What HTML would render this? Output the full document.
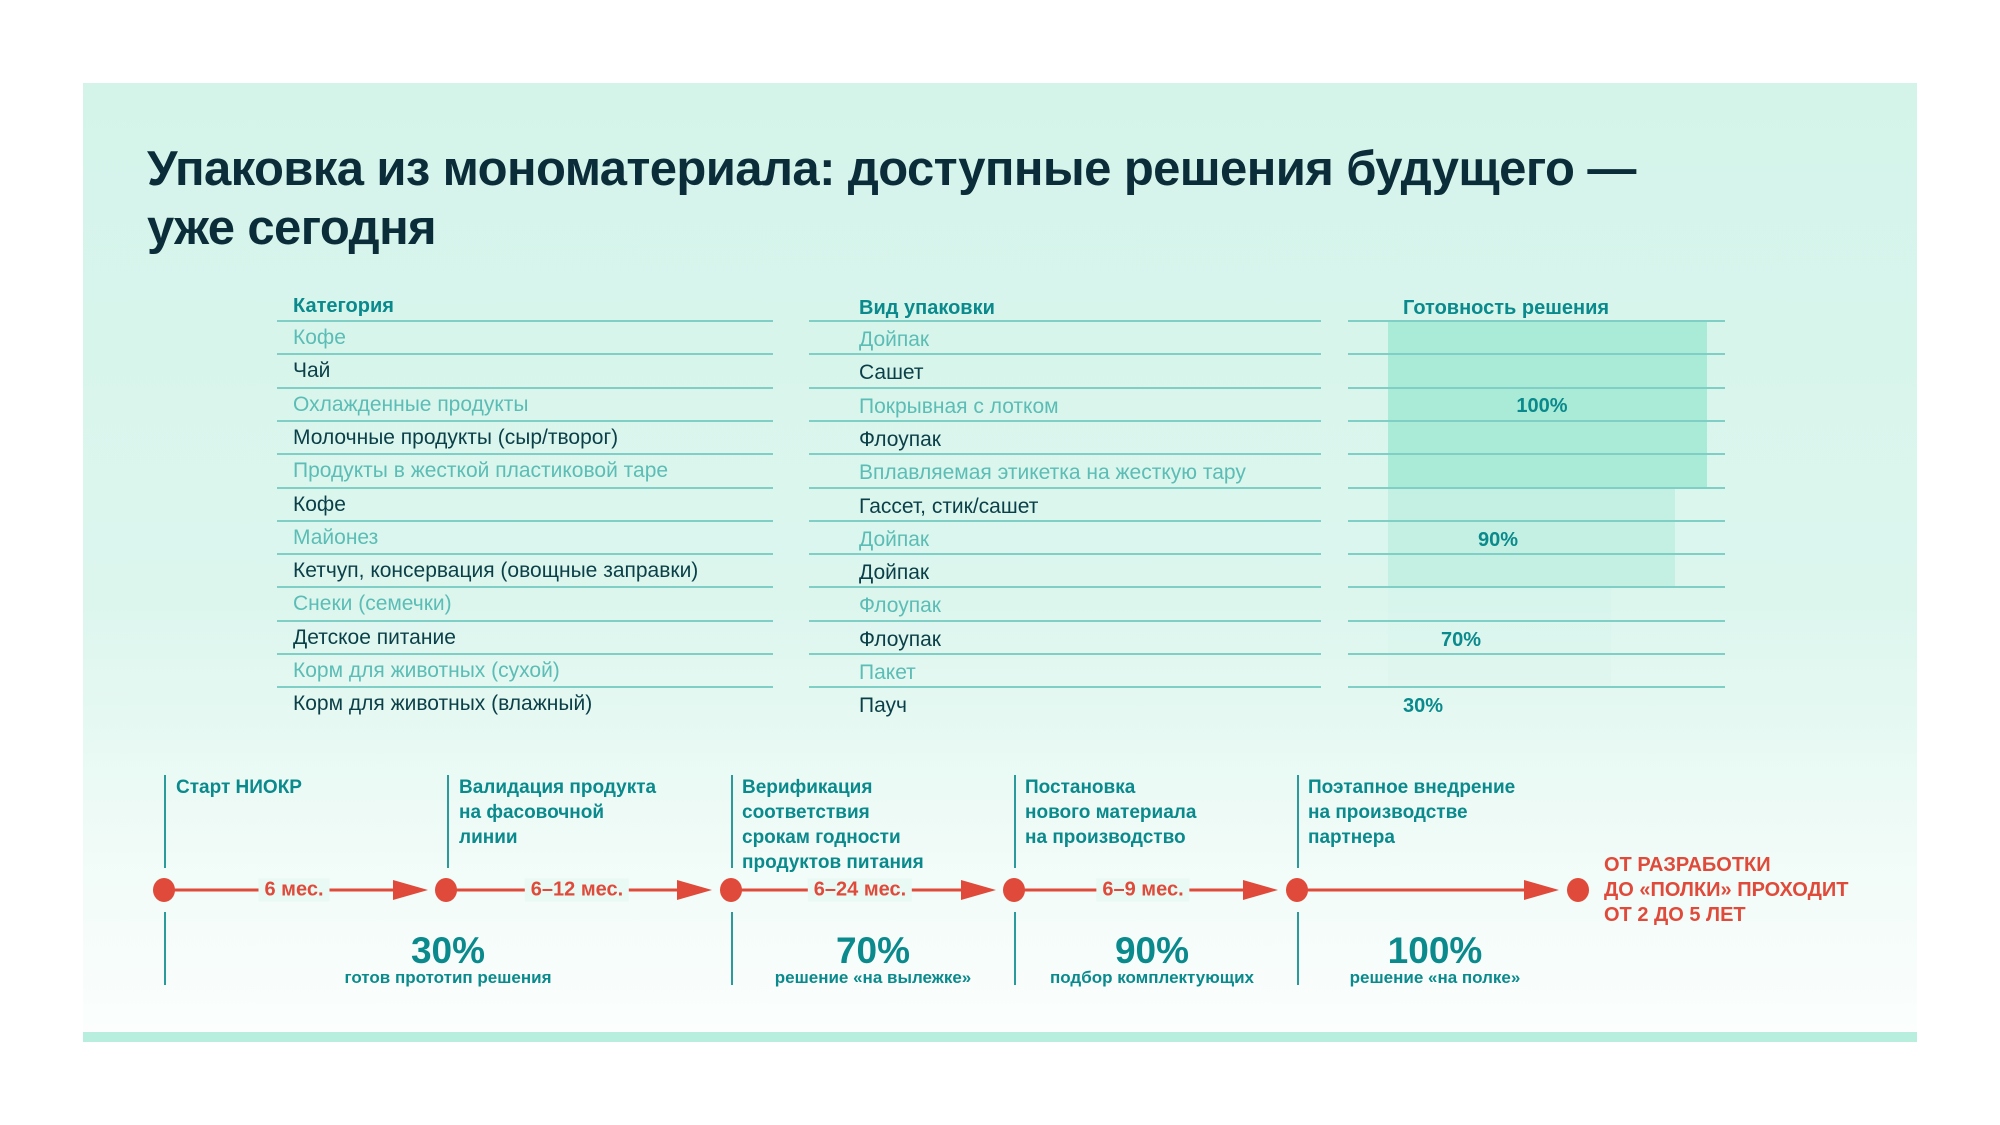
<!DOCTYPE html>
<html><head><meta charset="utf-8"><style>
*{margin:0;padding:0;box-sizing:border-box}
body{width:2000px;height:1125px;background:#fff;position:relative;overflow:hidden;font-family:"Liberation Sans","Noto Sans CJK SC",sans-serif}
.panel{position:absolute;left:83px;top:83px;width:1834px;height:948px;background:linear-gradient(#d4f4ea 0%,#dcf6ee 55%,#f0fbf7 80%,#fbfefd 100%)}
.strip{position:absolute;left:83px;top:1032px;width:1834px;height:10px;background:#b8eedd}
.a{position:absolute;white-space:nowrap}
.title{left:147px;font-weight:bold;font-size:49px;color:#0b2d3a;letter-spacing:-0.6px}
.hl{position:absolute;height:2px;background:#7fcfc6}
.t{position:absolute;font-size:21px;white-space:nowrap;line-height:24px}
.h{font-weight:bold;color:#0a8a8c;font-size:20px}
.lt{color:#5bbdb5}.dk{color:#0b3f48}
.bar{position:absolute;left:1388px}
.pc{position:absolute;font-weight:bold;color:#0a8a8c;font-size:20px;transform:translateX(-50%)}
.vl{position:absolute;width:2px;background:#2a9a9a}
.lab{position:absolute;font-weight:bold;color:#0a8a8c;font-size:19px;line-height:25px}
.dur{position:absolute;font-weight:bold;color:#e04a3a;font-size:20px;transform:translate(-50%,-50%);padding:0 6px;white-space:nowrap}
.big{position:absolute;font-weight:bold;color:#0a8a8c;font-size:37px;transform:translateX(-50%);white-space:nowrap}
.sub{position:absolute;font-weight:bold;color:#0a8a8c;font-size:17px;transform:translateX(-50%);white-space:nowrap}
</style></head><body>
<div class="panel"></div>
<div class="strip"></div>
<div class="a title" style="top:141px">Упаковка из мономатериала: доступные решения будущего —</div>
<div class="a title" style="top:200px">уже сегодня</div>

<div class="bar" style="top:321px;height:167px;width:319px;background:#aaebd8"></div>
<div class="bar" style="top:488px;height:99px;width:287px;background:#c3f0e2"></div>
<div class="bar" style="top:587px;height:100px;width:223px;background:linear-gradient(#d6f5ec,#e0f6ef)"></div>

<div class="t h" style="left:293px;top:294px">Категория</div>
<div class="t h" style="left:859px;top:296px">Вид упаковки</div>
<div class="t h" style="left:1403px;top:296px">Готовность решения</div>

<div id="lines"></div>
<div id="rows"></div>

<div class="pc" style="left:1542px;top:395px">100%</div>
<div class="pc" style="left:1498px;top:529px">90%</div>
<div class="pc" style="left:1461px;top:629px">70%</div>
<div class="pc" style="left:1423px;top:695px">30%</div>

<svg style="position:absolute;left:0;top:0" width="2000" height="1125">
<g stroke="#e04a3a" stroke-width="3" fill="#e04a3a">
<line x1="164" y1="890" x2="400" y2="890"/><polygon points="393,880 428,890 393,900" stroke="none"/>
<line x1="446" y1="890" x2="684" y2="890"/><polygon points="677,880 712,890 677,900" stroke="none"/>
<line x1="731" y1="890" x2="968" y2="890"/><polygon points="961,880 996,890 961,900" stroke="none"/>
<line x1="1014" y1="890" x2="1250" y2="890"/><polygon points="1243,880 1278,890 1243,900" stroke="none"/>
<line x1="1297" y1="890" x2="1530" y2="890"/><polygon points="1524,880 1559,890 1524,900" stroke="none"/>
</g>
<g fill="#e04a3a">
<ellipse cx="164" cy="890" rx="11" ry="12"/><ellipse cx="446" cy="890" rx="11" ry="12"/><ellipse cx="731" cy="890" rx="11" ry="12"/><ellipse cx="1014" cy="890" rx="11" ry="12"/><ellipse cx="1297" cy="890" rx="11" ry="12"/><ellipse cx="1578" cy="890" rx="11" ry="12"/>
</g>
</svg>
<div class="dur" style="left:294px;top:890px;background:#e9f9f3">6 мес.</div>
<div class="dur" style="left:577px;top:890px;background:#e9f9f3">6–12 мес.</div>
<div class="dur" style="left:860px;top:890px;background:#e9f9f3">6–24 мес.</div>
<div class="dur" style="left:1143px;top:890px;background:#e9f9f3">6–9 мес.</div>

<div class="vl" style="left:164px;top:775px;height:93px"></div><div class="vl" style="left:164px;top:912px;height:73px"></div>
<div class="vl" style="left:447px;top:775px;height:93px"></div>
<div class="vl" style="left:731px;top:775px;height:93px"></div><div class="vl" style="left:731px;top:912px;height:73px"></div>
<div class="vl" style="left:1014px;top:775px;height:93px"></div><div class="vl" style="left:1014px;top:912px;height:73px"></div>
<div class="vl" style="left:1297px;top:775px;height:93px"></div><div class="vl" style="left:1297px;top:912px;height:73px"></div>

<div class="lab" style="left:176px;top:775px">Старт НИОКР</div>
<div class="lab" style="left:459px;top:775px">Валидация продукта<br>на фасовочной<br>линии</div>
<div class="lab" style="left:742px;top:775px">Верификация<br>соответствия<br>срокам годности<br>продуктов питания</div>
<div class="lab" style="left:1025px;top:775px">Постановка<br>нового материала<br>на производство</div>
<div class="lab" style="left:1308px;top:775px">Поэтапное внедрение<br>на производстве<br>партнера</div>

<div class="lab" style="left:1604px;top:853px;color:#e04a3a;font-size:20px">ОТ РАЗРАБОТКИ<br>ДО «ПОЛКИ» ПРОХОДИТ<br>ОТ 2 ДО 5 ЛЕТ</div>

<div class="big" style="left:448px;top:930px">30%</div><div class="sub" style="left:448px;top:968px">готов прототип решения</div>
<div class="big" style="left:873px;top:930px">70%</div><div class="sub" style="left:873px;top:968px">решение «на вылежке»</div>
<div class="big" style="left:1152px;top:930px">90%</div><div class="sub" style="left:1152px;top:968px">подбор комплектующих</div>
<div class="big" style="left:1435px;top:930px">100%</div><div class="sub" style="left:1435px;top:968px">решение «на полке»</div>

<script>
var L=document.getElementById('lines'),R=document.getElementById('rows'),h='';
for(var i=0;i<12;i++){var y=Math.round(321+33.3*i);
h+='<div class="hl" style="left:277px;width:496px;top:'+(y-1)+'px"></div>';
h+='<div class="hl" style="left:809px;width:512px;top:'+(y-1)+'px"></div>';
h+='<div class="hl" style="left:1348px;width:377px;top:'+(y-1)+'px"></div>';}
L.innerHTML=h;
var c=["Кофе","Чай","Охлажденные продукты","Молочные продукты (сыр/творог)","Продукты в жесткой пластиковой таре","Кофе","Майонез","Кетчуп, консервация (овощные заправки)","Снеки (семечки)","Детское питание","Корм для животных (сухой)","Корм для животных (влажный)"];
var v=["Дойпак","Сашет","Покрывная с лотком","Флоупак","Вплавляемая этикетка на жесткую тару","Гассет, стик/сашет","Дойпак","Дойпак","Флоупак","Флоупак","Пакет","Пауч"];
h='';
for(i=0;i<12;i++){var y=Math.round(321+33.3*i)+6;var cl=(i%2==0)?'lt':'dk';
h+='<div class="t '+cl+'" style="left:293px;top:'+(y-1)+'px">'+c[i]+'</div>';
h+='<div class="t '+cl+'" style="left:859px;top:'+(y+1)+'px">'+v[i]+'</div>';}
R.innerHTML=h;
</script>
</body></html>
